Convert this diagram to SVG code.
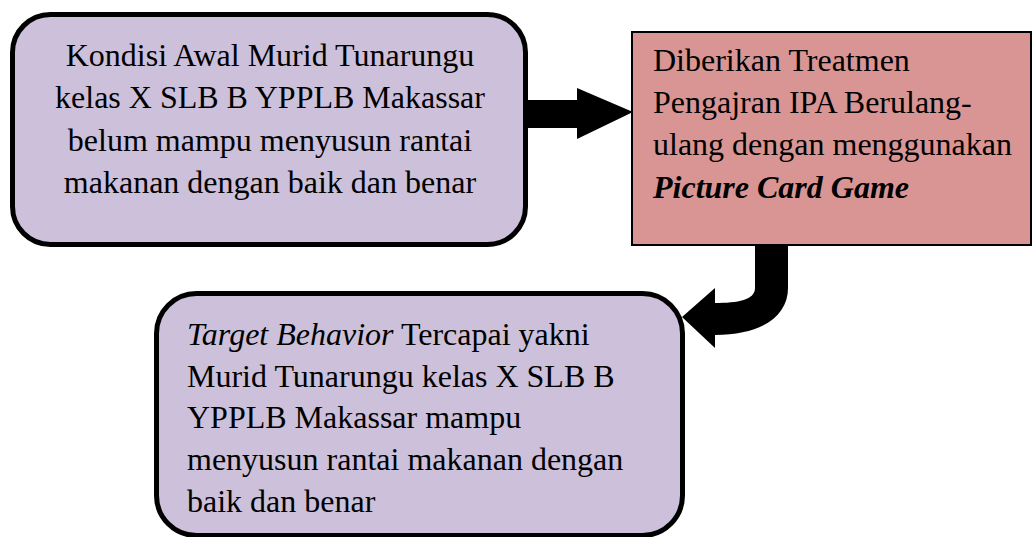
<svg xmlns="http://www.w3.org/2000/svg" width="1033" height="537" viewBox="0 0 1033 537">
<style>
text{font-family:"Liberation Serif","Times New Roman",serif;font-size:32px;fill:#000}
.lav{fill:#CCC0DA;stroke:#000;stroke-width:5}
.pink{fill:#D99594;stroke:#000;stroke-width:2}
.arr{fill:#000;stroke:none}
</style>
<rect width="1033" height="537" fill="#fff"/>
<g id="connectors">
<polygon class="arr" points="526,100 577,100 577,88 633,112 577,139 577,128 526,128"/>
<path class="arr" d="M755,245 L788,245 L788,288 C788,316 762,335 715,335 L715,348 L682,317 L715,288 L715,303 C738,303 755,300 755,288 Z"/>
</g>
<g id="node-kondisi">
<rect class="lav" x="12.5" y="14.5" width="513" height="230" rx="38" ry="38"/>
<text text-anchor="middle" x="270" y="65.5">Kondisi Awal Murid Tunarungu</text>
<text text-anchor="middle" x="270" y="108">kelas X SLB B YPPLB Makassar</text>
<text text-anchor="middle" x="270" y="150.5">belum mampu menyusun rantai</text>
<text text-anchor="middle" x="270" y="193">makanan dengan baik dan benar</text>
</g>
<g id="node-treatmen">
<rect class="pink" x="632" y="32" width="399" height="213"/>
<text x="653" y="71">Diberikan Treatmen</text>
<text x="653" y="113">Pengajran IPA Berulang-</text>
<text x="653" y="155">ulang dengan menggunakan</text>
<text x="653" y="197.5" font-weight="bold" font-style="italic">Picture Card Game</text>
</g>
<g id="node-target">
<rect class="lav" x="156.5" y="293.5" width="526" height="242" rx="40" ry="40"/>
<text x="187" y="345"><tspan font-style="italic">Target Behavior</tspan> Tercapai yakni</text>
<text x="187" y="386.7">Murid Tunarungu kelas X SLB B</text>
<text x="187" y="428.4">YPPLB Makassar mampu</text>
<text x="187" y="470">menyusun rantai makanan dengan</text>
<text x="187" y="511.8">baik dan benar</text>
</g>
</svg>
